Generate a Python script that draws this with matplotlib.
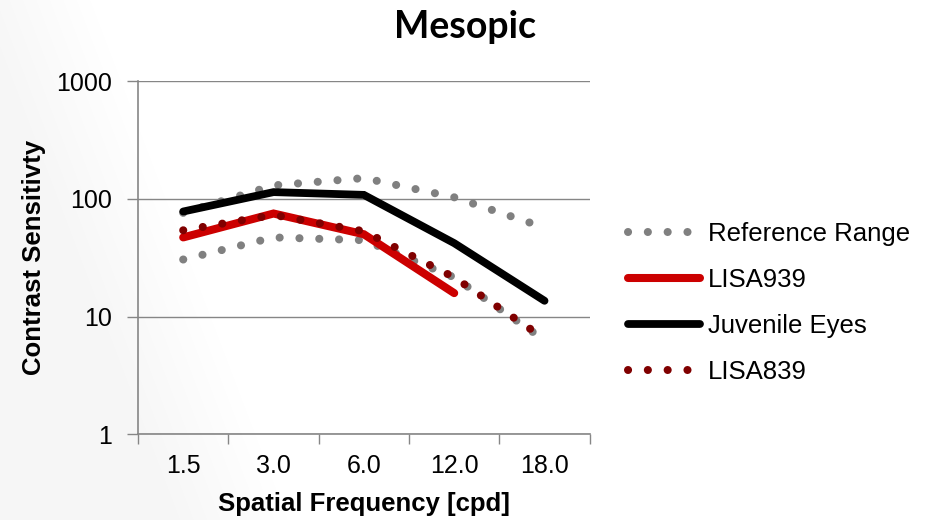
import matplotlib
matplotlib.use("Agg")
import matplotlib.pyplot as plt
import numpy as np

plt.rcParams['font.family'] = ['Liberation Sans', 'DejaVu Sans']

categories = ["1.5", "3.0", "6.0", "12.0", "18.0"]
ref_upper = [76, 130, 150, 103, 57]
ref_lower = [30.5, 47, 44.5, 21.5, 6.3]
lisa939 = [47, 75, 50, 15.8, None]
juvenile = [78, 114, 108, 42, 13.6]
lisa839 = [54, 73, 53, 21.5, 6.5]

W, H = 939, 520
fig = plt.figure(figsize=(W / 100, H / 100), dpi=100)

# faint slide-background shading on the left
bg = fig.add_axes([0, 0, 1, 1], zorder=-10)
yy, xx = np.mgrid[0:H, 0:W]
edge = 30 + 0.38 * yy
t = np.clip((edge - xx) / 120.0 + 0.5, 0, 1)
shade = 1 - 0.035 * t
bg.imshow(np.dstack([shade] * 3), extent=[0, W, H, 0], aspect='auto', interpolation='bilinear')
bg.set_axis_off()

ax = fig.add_axes([0.147, 0.165, 0.481, 0.679])
ax.patch.set_alpha(0)

x = np.arange(len(categories))
def arr(v):
    return np.array([np.nan if a is None else a for a in v], dtype=float)

dlw = 5.8
dot = (0, (0.01, 2.45))
ax.plot(x, arr(ref_upper), color='#808080', lw=dlw, linestyle=dot,
        dash_capstyle='round', label='Reference Range', zorder=3)
ax.plot(x, arr(ref_lower), color='#808080', lw=dlw, linestyle=dot,
        dash_capstyle='round', zorder=3)
ax.plot(x, arr(lisa939), color='#cc0000', lw=5.8, solid_capstyle='round',
        solid_joinstyle='miter', label='LISA939', zorder=4)
ax.plot(x, arr(juvenile), color='black', lw=5.6, solid_capstyle='round',
        solid_joinstyle='miter', label='Juvenile Eyes', zorder=5)
ax.plot(x, arr(lisa839), color='#800000', lw=dlw, linestyle=dot,
        dash_capstyle='round', label='LISA839', zorder=6)

ax.set_yscale('log')
ax.set_ylim(1, 1000)
ax.set_xlim(-0.5, len(categories) - 0.5)
ax.set_yticks([1, 10, 100, 1000])
ax.set_yticklabels(['1', '10', '100', '1000'])
ax.yaxis.set_minor_locator(matplotlib.ticker.NullLocator())

ax.set_xticks(np.arange(-0.5, len(categories)))
ax.set_xticklabels([])
ax.set_xticks(x, minor=True)
ax.set_xticklabels(categories, minor=True)
ax.tick_params(axis='x', which='major', length=7, width=1, color='#868686', direction='out')
ax.tick_params(axis='x', which='minor', length=0, pad=14, labelsize=18)
ax.tick_params(axis='y', which='major', length=8, width=1, color='#868686', direction='out',
               labelsize=18, pad=11)

ax.grid(axis='y', which='major', color='#868686', lw=1)
for s in ['top', 'right']:
    ax.spines[s].set_visible(False)
for s in ['left', 'bottom']:
    ax.spines[s].set_color('#868686')
    ax.spines[s].set_linewidth(1.2)

ax.set_xlabel('Spatial Frequency [cpd]', fontsize=18.5, fontweight='bold', labelpad=10)
ax.set_ylabel('Contrast Sensitivty', fontsize=18.5, fontweight='bold', labelpad=7)
fig.text(0.495, 0.927, 'Mesopic', fontsize=27, fontweight='bold', ha='center',
         va='baseline', family=['Lato', 'DejaVu Sans'])

leg = fig.legend(loc='center left', bbox_to_anchor=(0.669, 0.417), frameon=False,
                 fontsize=18.5, handlelength=2.8, handletextpad=0.3, labelspacing=0.85,
                 borderpad=0, borderaxespad=0)

fig.savefig('out.png', dpi=100)
